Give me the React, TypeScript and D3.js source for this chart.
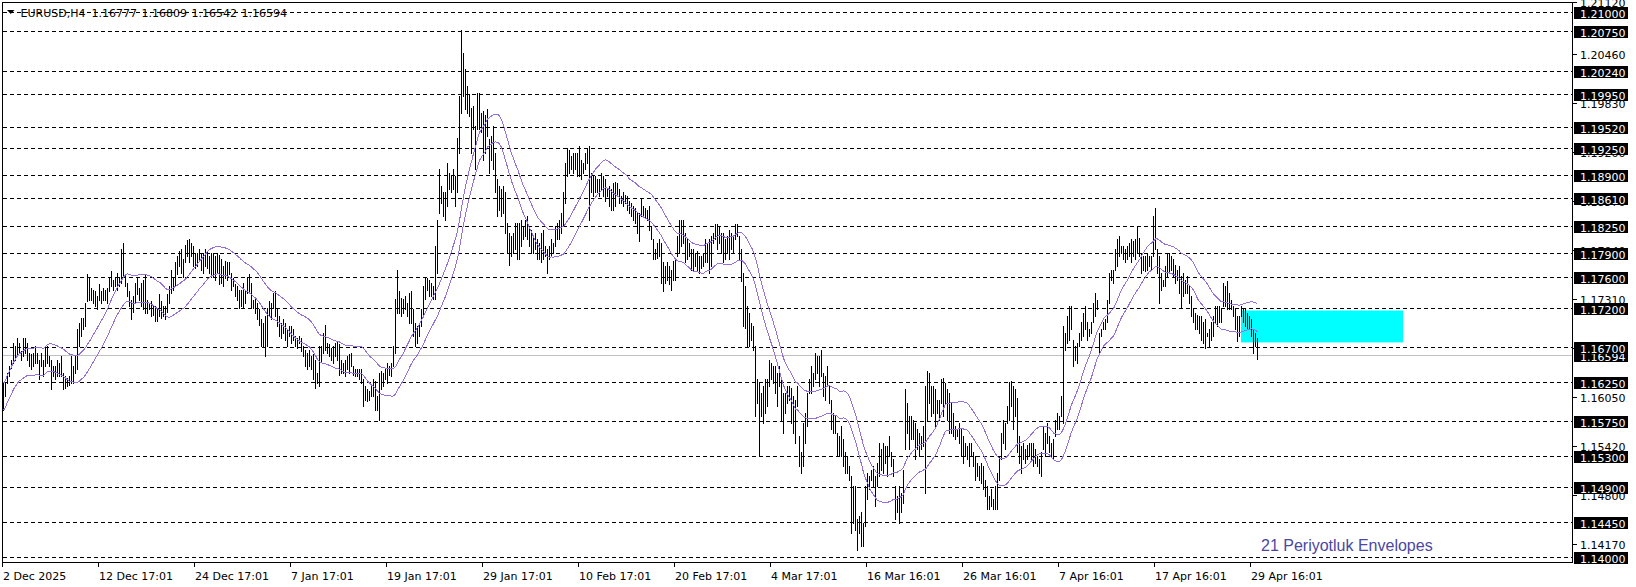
import React from 'react';
import * as d3 from 'd3';

// ---- data (EURUSD H4 bars) ----
const HIGHS: number[] = [
1.1623,1.1623,1.1636,1.1645,1.1653,1.1675,1.1671,1.1681,1.1675,1.1664,
1.1681,1.1681,1.1675,1.1662,1.1660,1.1662,1.1671,1.1662,1.1653,1.1662,
1.1653,1.1671,1.1671,1.1658,1.1653,1.1645,1.1645,1.1653,1.1649,1.1658,
1.1636,1.1632,1.1630,1.1632,1.1658,1.1645,1.1658,1.1692,1.1700,1.1707,
1.1707,1.1726,1.1763,1.1760,1.1745,1.1743,1.1741,1.1735,1.1750,1.1741,
1.1745,1.1743,1.1745,1.1758,1.1767,1.1756,1.1758,1.1765,1.1760,1.1795,
1.1803,1.1763,1.1752,1.1741,1.1730,1.1735,1.1752,1.1760,1.1745,1.1752,
1.1756,1.1763,1.1730,1.1726,1.1728,1.1724,1.1722,1.1718,1.1737,1.1728,
1.1722,1.1722,1.1737,1.1748,1.1769,1.1760,1.1778,1.1786,1.1793,1.1795,
1.1782,1.1801,1.1807,1.1808,1.1803,1.1799,1.1790,1.1790,1.1795,1.1790,
1.1790,1.1795,1.1793,1.1786,1.1790,1.1790,1.1786,1.1790,1.1788,1.1782,
1.1773,1.1780,1.1778,1.1778,1.1765,1.1758,1.1750,1.1748,1.1743,1.1743,
1.1752,1.1743,1.1760,1.1763,1.1752,1.1730,1.1733,1.1726,1.1718,1.1705,
1.1700,1.1709,1.1720,1.1728,1.1726,1.1739,1.1741,1.1718,1.1709,1.1700,
1.1705,1.1700,1.1692,1.1696,1.1696,1.1692,1.1683,1.1681,1.1683,1.1681,
1.1671,1.1666,1.1662,1.1666,1.1658,1.1660,1.1653,1.1636,1.1671,
1.1671,1.1688,1.1698,1.1675,1.1673,1.1668,1.1671,1.1675,1.1677,1.1673,
1.1653,1.1649,1.1653,1.1658,1.1660,1.1662,1.1645,1.1641,1.1641,1.1641,
1.1641,1.1628,1.1619,1.1615,1.1613,1.1619,1.1628,1.1626,1.1606,1.1636,
1.1638,1.1636,1.1641,1.1649,1.1645,1.1649,1.1671,1.1731,1.1769,1.1741,
1.1733,1.1731,1.1735,1.1726,1.1739,1.1741,1.1718,1.1700,1.1696,1.1700,
1.1718,1.1748,1.1760,1.1758,1.1756,1.1752,1.1748,1.1799,1.1833,1.1898,
1.1876,1.1868,1.1868,1.1906,1.1893,1.1889,1.1898,1.1889,1.1938,1.1992,
1.2077,1.2047,1.2026,1.2005,1.1994,1.1977,1.1979,1.1953,1.1996,1.1996,
1.1970,1.1972,1.1968,1.1975,1.1936,1.1940,1.1953,1.1919,1.1885,1.1876,
1.1872,1.1876,1.1868,1.1829,1.1816,1.1812,1.1816,1.1829,1.1829,1.1829,
1.1833,1.1825,1.1833,1.1838,1.1825,1.1820,1.1812,1.1816,1.1808,1.1803,
1.1816,1.1820,1.1799,1.1795,1.1799,1.1808,1.1803,1.1825,1.1829,1.1833,
1.1842,1.1868,1.1906,1.1925,1.1923,1.1915,1.1919,1.1919,1.1919,1.1927,
1.1910,1.1906,1.1919,1.1925,1.1927,1.1893,1.1891,1.1889,1.1885,1.1885,
1.1893,1.1889,1.1885,1.1872,1.1876,1.1872,1.1880,1.1882,1.1880,1.1872,
1.1863,1.1868,1.1865,1.1863,1.1857,1.1855,1.1850,1.1848,1.1842,1.1842,
1.1859,1.1850,1.1848,1.1846,1.1850,1.1825,1.1808,1.1795,1.1803,1.1808,
1.1803,1.1778,1.1773,1.1778,1.1773,1.1769,1.1780,1.1782,1.1812,1.1833,
1.1833,1.1833,1.1816,1.1810,1.1803,1.1795,1.1795,1.1790,1.1793,1.1786,
1.1786,1.1790,1.1808,1.1803,1.1808,1.1812,1.1816,1.1827,1.1827,1.1823,
1.1816,1.1816,1.1808,1.1812,1.1820,1.1816,1.1812,1.1827,1.1827,1.1812,
1.1795,1.1765,1.1748,1.1722,1.1713,1.1700,1.1696,1.1671,1.1628,1.1623,
1.1611,1.1619,1.1628,1.1628,1.1653,1.1649,1.1645,1.1645,1.1636,1.1645,
1.1628,1.1611,1.1611,1.1619,1.1619,1.1617,1.1606,1.1602,1.1619,1.1555,
1.1534,1.1572,1.1585,1.1611,1.1628,1.1645,1.1636,1.1662,1.1658,1.1658,
1.1666,1.1636,1.1632,1.1645,1.1619,1.1602,1.1585,1.1581,1.1559,1.1555,
1.1568,1.1551,1.1534,1.1529,1.1516,1.1504,1.1491,1.1491,1.1448,1.1452,
1.1457,1.1444,1.1491,1.1508,1.1504,1.1512,1.1516,1.1504,1.1521,1.1546,
1.1538,1.1546,1.1542,1.1542,1.1555,1.1534,1.1525,1.1491,1.1478,1.1491,
1.1482,1.1512,1.1615,1.1598,1.1581,1.1581,1.1576,1.1572,1.1564,1.1559,
1.1555,1.1568,1.1619,1.1638,1.1636,1.1619,1.1619,1.1615,1.1602,1.1602,
1.1628,1.1630,1.1623,1.1615,1.1611,1.1598,1.1585,1.1568,1.1564,1.1572,
1.1566,1.1555,1.1546,1.1542,1.1546,1.1546,1.1534,1.1529,1.1521,1.1517,
1.1521,1.1517,1.1499,1.1491,1.1478,1.1487,1.1474,1.1491,1.1508,1.1529,
1.1559,1.1576,1.1572,1.1594,1.1624,1.1626,1.1619,1.1615,1.1604,1.1555,
1.1542,1.1546,1.1538,1.1544,1.1546,1.1546,1.1546,1.1538,1.1529,1.1525,
1.1534,1.1568,1.1559,1.1572,1.1555,1.1546,1.1551,1.1576,1.1585,1.1581,
1.1606,1.1696,1.1688,1.1709,1.1722,1.1722,1.1679,1.1671,1.1675,1.1688,
1.1701,1.1713,1.1722,1.1701,1.1692,1.1701,1.1726,1.1739,1.1730,1.1688,
1.1692,1.1701,1.1705,1.1730,1.1765,1.1769,1.1769,1.1795,1.1808,1.1812,
1.1799,1.1799,1.1795,1.1799,1.1803,1.1808,1.1805,1.1808,1.1823,1.1810,
1.1790,1.1786,1.1786,1.1790,1.1786,1.1786,1.1838,1.1848,1.1795,1.1786,
1.1765,1.1756,1.1773,1.1790,1.1790,1.1786,1.1782,1.1775,1.1769,1.1773,
1.1761,1.1765,1.1756,1.1761,1.1748,1.1735,1.1718,1.1713,1.1711,1.1709,
1.1709,1.1701,1.1705,1.1688,1.1692,1.1701,1.1709,1.1722,1.1722,1.1722,
1.1718,1.1752,1.1748,1.1754,1.1739,1.1730,1.1722,1.1718,1.1709,1.1709,
1.1722,1.1720,1.1718,1.1713,1.1709,1.1705,1.1692,1.1688,1.16809,
];

const LOWS: number[] = [
1.1589,1.1606,1.1623,1.1632,1.1643,1.1649,1.1653,1.1658,1.1662,1.1653,
1.1658,1.1662,1.1653,1.1645,1.1641,1.1645,1.1649,1.1649,1.1628,1.1645,
1.1632,1.1645,1.1649,1.1645,1.1615,1.1632,1.1628,1.1632,1.1632,1.1632,
1.1615,1.1617,1.1619,1.1621,1.1623,1.1623,1.1636,1.1641,1.1671,1.1683,
1.1692,1.1696,1.1728,1.1730,1.1730,1.1726,1.1722,1.1718,1.1730,1.1726,
1.1730,1.1730,1.1726,1.1741,1.1748,1.1743,1.1748,1.1743,1.1748,1.1752,
1.1760,1.1748,1.1735,1.1722,1.1705,1.1715,1.1726,1.1737,1.1730,1.1722,
1.1718,1.1713,1.1713,1.1718,1.1709,1.1711,1.1703,1.1703,1.1709,1.1707,
1.1709,1.1705,1.1715,1.1726,1.1739,1.1743,1.1748,1.1763,1.1773,1.1765,
1.1760,1.1778,1.1786,1.1778,1.1786,1.1773,1.1771,1.1773,1.1782,1.1769,
1.1765,1.1773,1.1771,1.1765,1.1760,1.1760,1.1756,1.1765,1.1750,1.1752,
1.1748,1.1758,1.1756,1.1763,1.1743,1.1748,1.1735,1.1730,1.1720,1.1722,
1.1720,1.1726,1.1739,1.1739,1.1720,1.1720,1.1713,1.1705,1.1698,1.1671,
1.1671,1.1658,1.1671,1.1709,1.1705,1.1720,1.1709,1.1696,1.1683,1.1681,
1.1688,1.1679,1.1671,1.1683,1.1675,1.1679,1.1671,1.1668,1.1675,1.1664,
1.1658,1.1645,1.1641,1.1645,1.1641,1.1628,1.1617,1.1623,1.1619,
1.1651,1.1662,1.1666,1.1662,1.1658,1.1653,1.1649,1.1658,1.1653,1.1634,
1.1636,1.1636,1.1632,1.1641,1.1636,1.1645,1.1634,1.1632,1.1632,1.1628,
1.1623,1.1594,1.1602,1.1600,1.1602,1.1606,1.1606,1.1589,1.1589,1.1576,
1.1615,1.1619,1.1628,1.1623,1.1634,1.1632,1.1645,1.1662,1.1713,1.1713,
1.1709,1.1713,1.1718,1.1709,1.1700,1.1700,1.1683,1.1671,1.1675,1.1683,
1.1696,1.1709,1.1731,1.1743,1.1735,1.1735,1.1731,1.1731,1.1765,1.1842,
1.1855,1.1838,1.1833,1.1850,1.1872,1.1868,1.1872,1.1850,1.1868,1.1919,
1.1970,1.1992,1.1975,1.1970,1.1966,1.1919,1.1949,1.1898,1.1949,1.1949,
1.1945,1.1910,1.1919,1.1940,1.1893,1.1910,1.1898,1.1868,1.1838,1.1846,
1.1838,1.1842,1.1816,1.1790,1.1775,1.1786,1.1790,1.1795,1.1782,1.1782,
1.1799,1.1808,1.1812,1.1808,1.1799,1.1790,1.1790,1.1795,1.1782,1.1782,
1.1778,1.1782,1.1786,1.1765,1.1782,1.1786,1.1790,1.1799,1.1808,1.1808,
1.1816,1.1825,1.1855,1.1889,1.1893,1.1898,1.1893,1.1898,1.1889,1.1889,
1.1885,1.1893,1.1898,1.1906,1.1833,1.1868,1.1863,1.1868,1.1868,1.1863,
1.1872,1.1863,1.1857,1.1863,1.1850,1.1846,1.1846,1.1850,1.1863,1.1855,
1.1855,1.1850,1.1855,1.1846,1.1842,1.1838,1.1833,1.1829,1.1816,1.1805,
1.1838,1.1838,1.1835,1.1833,1.1820,1.1808,1.1782,1.1782,1.1784,1.1786,
1.1752,1.1741,1.1752,1.1756,1.1750,1.1743,1.1756,1.1756,1.1786,1.1790,
1.1799,1.1803,1.1778,1.1782,1.1786,1.1769,1.1767,1.1773,1.1767,1.1765,
1.1771,1.1773,1.1778,1.1778,1.1765,1.1773,1.1803,1.1808,1.1795,1.1803,
1.1790,1.1778,1.1782,1.1790,1.1782,1.1795,1.1790,1.1808,1.1812,1.1782,
1.1754,1.1696,1.1694,1.1671,1.1671,1.1679,1.1666,1.1581,1.1598,1.1529,
1.1581,1.1572,1.1585,1.1594,1.1619,1.1628,1.1623,1.1611,1.1594,1.1619,
1.1576,1.1559,1.1585,1.1598,1.1602,1.1572,1.1559,1.1546,1.1594,1.1516,
1.1508,1.1516,1.1546,1.1568,1.1611,1.1611,1.1619,1.1628,1.1636,1.1619,
1.1632,1.1606,1.1602,1.1619,1.1598,1.1564,1.1559,1.1559,1.1529,1.1529,
1.1529,1.1516,1.1508,1.1508,1.1499,1.1431,1.1444,1.1435,1.1409,1.1431,
1.1414,1.1414,1.1439,1.1474,1.1487,1.1499,1.1491,1.1465,1.1491,1.1504,
1.1512,1.1508,1.1521,1.1504,1.1529,1.1516,1.1504,1.1448,1.1457,1.1444,
1.1457,1.1469,1.1538,1.1559,1.1538,1.1551,1.1551,1.1525,1.1538,1.1529,
1.1538,1.1542,1.1482,1.1574,1.1598,1.1581,1.1585,1.1568,1.1585,1.1576,
1.1598,1.1581,1.1598,1.1576,1.1559,1.1559,1.1555,1.1551,1.1555,1.1546,
1.1529,1.1521,1.1529,1.1525,1.1517,1.1529,1.1517,1.1499,1.1504,1.1499,
1.1495,1.1487,1.1478,1.1461,1.1461,1.1465,1.1461,1.1461,1.1461,1.1499,
1.1525,1.1546,1.1538,1.1572,1.1576,1.1594,1.1564,1.1581,1.1534,1.1521,
1.1508,1.1525,1.1521,1.1525,1.1529,1.1525,1.1517,1.1521,1.1517,1.1508,
1.1504,1.1538,1.1529,1.1546,1.1534,1.1529,1.1525,1.1555,1.1564,1.1564,
1.1581,1.1572,1.1666,1.1675,1.1679,1.1692,1.1645,1.1653,1.1649,1.1671,
1.1679,1.1683,1.1692,1.1679,1.1683,1.1688,1.1701,1.1709,1.1718,1.1662,
1.1683,1.1692,1.1692,1.1701,1.1726,1.1756,1.1752,1.1769,1.1773,1.1786,
1.1790,1.1782,1.1778,1.1782,1.1786,1.1778,1.1786,1.1782,1.1790,1.1786,
1.1765,1.1769,1.1767,1.1769,1.1773,1.1769,1.1786,1.1795,1.1765,1.1726,
1.1743,1.1748,1.1748,1.1761,1.1765,1.1769,1.1761,1.1752,1.1756,1.1739,
1.1720,1.1735,1.1739,1.1739,1.1726,1.1709,1.1701,1.1692,1.1692,1.1688,
1.1679,1.1675,1.1668,1.1683,1.1671,1.1679,1.1683,1.1701,1.1696,1.1701,
1.1701,1.1722,1.1722,1.1718,1.1718,1.1718,1.1709,1.1692,1.1677,1.1683,
1.1709,1.1701,1.1696,1.1692,1.1692,1.1683,1.1662,1.1671,1.16542,
];

const TIME_LABELS = ['2 Dec 2025', '12 Dec 17:01', '24 Dec 17:01', '7 Jan 17:01', '19 Jan 17:01', '29 Jan 17:01', '10 Feb 17:01', '20 Feb 17:01', '4 Mar 17:01', '16 Mar 16:01', '26 Mar 16:01', '7 Apr 16:01', '17 Apr 16:01', '29 Apr 16:01'];
const TIME_LABEL_BARS = [0, 48, 96, 144, 192, 240, 288, 336, 384, 432, 480, 528, 576, 624];

const LEVELS = [1.21, 1.2075, 1.2024, 1.1995, 1.1952, 1.1925, 1.189, 1.1861, 1.1825, 1.179, 1.176, 1.172, 1.167, 1.1625, 1.1575, 1.153, 1.149, 1.1445, 1.14];
const AXIS_TICKS = [1.2112, 1.2046, 1.1983, 1.192, 1.1857, 1.1794, 1.1731, 1.1668, 1.1605, 1.1542, 1.148, 1.1417];

const SYMBOL = 'EURUSD,H4';
const HEADER_OHLC = [1.16777, 1.16809, 1.16542, 1.16594];
const CURRENT_PRICE = 1.16594;

const ZONE_BARS = [619, 700];
const ZONE_PRICES = [1.1717, 1.1676];

const ENV_PERIOD = 21;
const ENV_DEVIATION = 0.15; // percent
const ENV_LABEL = '21 Periyotluk Envelopes';

const W = 1636;
const H = 587;
const FONT = '"DejaVu Sans", Verdana, sans-serif';

export default function App() {
  const n = Math.min(HIGHS.length, LOWS.length);
  const x = d3.scaleLinear().domain([0, 627]).range([3.5, 1257.5]);
  const y = d3.scaleLinear().domain([1.14, 1.21]).range([557.3, 12.3]);
  const py = (p: number) => Math.floor(y(p)) + 0.5;

  // envelope on median price, SMA
  const med = d3.range(n).map((i) => (HIGHS[i] + LOWS[i]) / 2);
  const ma = d3.range(n).map((i) => d3.mean(med.slice(Math.max(0, i - ENV_PERIOD + 1), i + 1)) as number);
  const upper = ma.map((m) => m * (1 + ENV_DEVIATION / 100));
  const lower = ma.map((m) => m * (1 - ENV_DEVIATION / 100));
  const line = d3
    .line<number>()
    .x((_, i) => x(i))
    .y((d) => y(d));

  const frameL = 2.5, frameR = 1572.5, frameT = 2.5, frameB = 562.5;

  return (
    <div style={{ position: 'absolute', left: 0, top: 0 }}>
      <svg width={W} height={H} style={{ display: 'block', background: '#fff' }} fontFamily={FONT}>
        <rect x={0} y={0} width={W} height={H} fill="#fff" />
        <defs>
          <clipPath id="plot">
            <rect x={3} y={3} width={1569} height={559} />
          </clipPath>
        </defs>
        <g clipPath="url(#plot)">
          {/* zone rectangle */}
          <rect
            x={x(ZONE_BARS[0]) - 0.5}
            y={y(ZONE_PRICES[0])}
            width={x(ZONE_BARS[1]) - x(ZONE_BARS[0])}
            height={y(ZONE_PRICES[1]) - y(ZONE_PRICES[0])}
            fill="#00FFFF"
          />
          {/* current price line */}
          <line x1={frameL} x2={frameR} y1={py(CURRENT_PRICE)} y2={py(CURRENT_PRICE)} stroke="#C0C0C0" strokeWidth={1} shapeRendering="crispEdges" />
          {/* horizontal levels */}
          {LEVELS.map((p) => (
            <line key={p} x1={3} x2={frameR} y1={py(p)} y2={py(p)} stroke="#000" strokeWidth={1} strokeDasharray="4,3" shapeRendering="crispEdges" />
          ))}
          {/* bars */}
          <g stroke="#000" strokeWidth={1} shapeRendering="crispEdges">
            {d3.range(n).map((i) => (
              <line key={i} x1={x(i)} x2={x(i)} y1={Math.floor(y(HIGHS[i]))} y2={Math.floor(y(LOWS[i])) + 1} />
            ))}
          </g>
          {/* envelopes */}
          <path d={line(upper) || ''} fill="none" stroke="#9370DB" strokeWidth={1} shapeRendering="crispEdges" />
          <path d={line(lower) || ''} fill="none" stroke="#9370DB" strokeWidth={1} shapeRendering="crispEdges" />
          <text x={1261} y={550.5} fontFamily='"Liberation Sans", Arial, sans-serif' fontSize={16} fill="#4B47A3">
            {ENV_LABEL}
          </text>
        </g>

        {/* frame */}
        <rect x={frameL} y={frameT} width={frameR - frameL} height={frameB - frameT} fill="none" stroke="#000" strokeWidth={1} shapeRendering="crispEdges" />

        {/* right axis regular ticks */}
        {AXIS_TICKS.map((p) => (
          <g key={'t' + p}>
            <line x1={frameR} x2={frameR + 4} y1={py(p)} y2={py(p)} stroke="#000" shapeRendering="crispEdges" />
            <text x={1580} y={Math.floor(y(p)) + 4.5} fontSize={11} fill="#000">
              {p.toFixed(5)}
            </text>
          </g>
        ))}
        {/* current price label */}
        <g>
          <rect x={1574} y={Math.floor(y(CURRENT_PRICE)) - 5} width={54} height={12} fill="#000" />
          <text x={1580} y={Math.floor(y(CURRENT_PRICE)) + 5.5} fontSize={11} fill="#fff">
            {CURRENT_PRICE.toFixed(5)}
          </text>
        </g>
        {/* level labels */}
        {LEVELS.map((p) => (
          <g key={'l' + p}>
            <rect x={1574} y={Math.floor(y(p)) - 5} width={54} height={12} fill="#000" />
            <text x={1580} y={Math.floor(y(p)) + 5.5} fontSize={11} fill="#fff">
              {p.toFixed(5)}
            </text>
          </g>
        ))}

        {/* bottom axis */}
        {TIME_LABEL_BARS.map((b, k) => (
          <g key={'x' + b}>
            <line x1={x(b) - 1} x2={x(b) - 1} y1={frameB} y2={frameB + 4} stroke="#000" shapeRendering="crispEdges" />
            <text x={x(b) - 0.5} y={579.5} fontSize={11} fill="#000">
              {TIME_LABELS[k]}
            </text>
          </g>
        ))}

        {/* header */}
        <path d="M7,10 L14.5,10 L10.75,14 Z" fill="#000" />
        <text x={20.5} y={16.5} fontSize={11} fill="#000">
          {SYMBOL}
        </text>
        {HEADER_OHLC.map((v, k) => (
          <text key={'h' + k} x={91.5 + k * 50} y={16.5} fontSize={11} fill="#000">
            {v.toFixed(5)}
          </text>
        ))}
      </svg>
    </div>
  );
}
